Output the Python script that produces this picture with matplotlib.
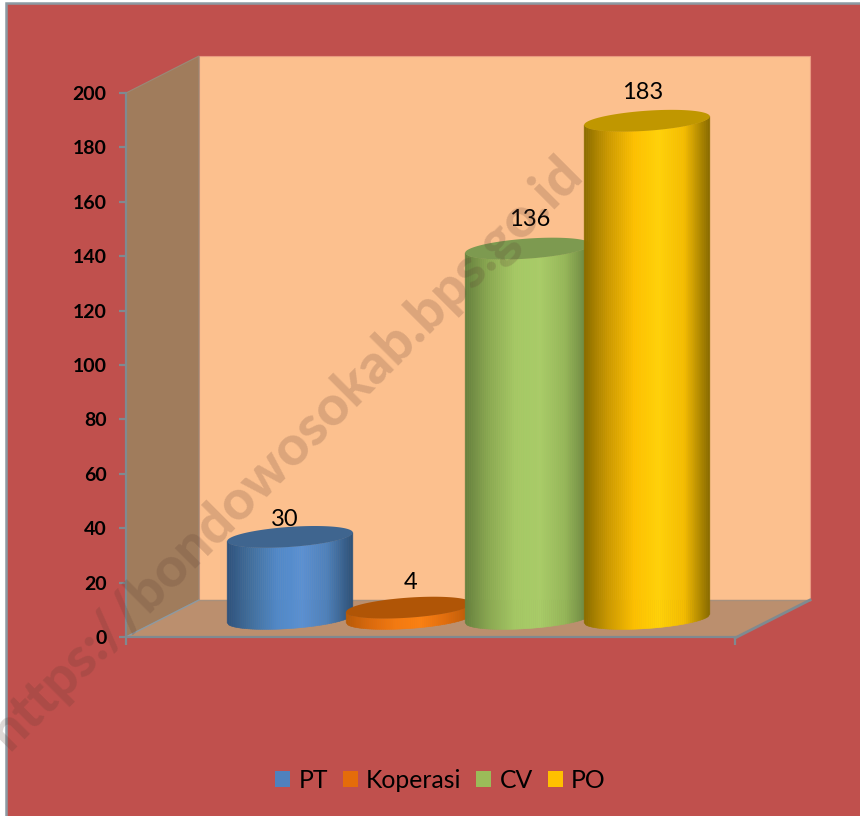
import numpy as np
import matplotlib
matplotlib.use("Agg")
import matplotlib.pyplot as plt
from matplotlib.collections import PolyCollection
from matplotlib.colors import LinearSegmentedColormap
from matplotlib.patches import Polygon, Rectangle, Patch
from matplotlib.transforms import Affine2D

categories = ["PT", "Koperasi", "CV", "PO"]
values = [30, 4, 136, 183]
y_ticks = [0, 20, 40, 60, 80, 100, 120, 140, 160, 180, 200]
side_colors = [
    ["#2f527c", "#41709f", "#5088c8", "#5a90d2", "#4d80ba", "#2f5278"],
    ["#b85a08", "#dc6a0c", "#f47a10", "#fb8012", "#e06c0c", "#b85a08"],
    ["#66803e", "#8aaa52", "#a4c864", "#a8cc68", "#94b658", "#66803e"],
    ["#8a6c00", "#cc9a00", "#fdc000", "#ffd208", "#f4bc00", "#8a6c00"],
]
top_colors = ["#3f658f", "#b05506", "#7d9a50", "#c09700"]
legend_colors = ["#4f81bd", "#e46c0a", "#9bbb59", "#ffc000"]
label_offsets = [(-5, 17), (2, 25), (2, 29), (-4, 28)]  # pixels from cylinder top

W, H = 860, 816
plt.rcParams["font.family"] = ["Lato", "DejaVu Sans"]
fig = plt.figure(figsize=(W / 100, H / 100), dpi=100, facecolor="white")

# chart frame and 3D walls, in pixel space
bg = fig.add_axes([0, 0, 1, 1], zorder=0)
bg.set_xlim(0, W)
bg.set_ylim(H, 0)
bg.axis("off")
bg.add_patch(Rectangle((6, 3), W, H, fc="#c0504d", ec="#8c9aa3", lw=1.8))
bg.add_patch(Polygon([(199, 56), (810, 56), (810, 600), (199, 600)], fc="#fcc08e", ec="#e89a80", lw=0.8))
bg.add_patch(Polygon([(126, 93), (199, 56), (199, 600), (126, 637)], fc="#a07c5c", ec="#998a78", lw=0.8))
bg.add_patch(Polygon([(126, 637), (199, 600), (810, 600), (735, 638)], fc="#bb8f6e", ec="none"))
bg.plot([199, 810], [600, 600], color="#a8907c", lw=1)
bg.plot([126, 199], [637, 600], color="#8c9aa3", lw=1)
bg.plot([735, 810], [638, 600], color="#7f8a90", lw=2)

# main axes: left/right/top/bottom match the front plane
x0, x1, yt, yb = 126, 735, 93, 637
ax = fig.add_axes([x0 / W, 1 - yb / H, (x1 - x0) / W, (yb - yt) / H], zorder=1)
ax.patch.set_alpha(0)
unit_x = 119.0
ax.set_xlim((x0 - 253.5) / unit_x, (x1 - 253.5) / unit_x)
ax.set_ylim(y_ticks[0], y_ticks[-1])
unit_y = (yb - yt) / (y_ticks[-1] - y_ticks[0])
depth = Affine2D().translate(36.5, 18.5)
trans = ax.transData + depth

RX, RY, TILT = 63.0, 10.0, np.radians(4.0)


def ellipse(t):
    return (RX * np.cos(t) * np.cos(TILT) - RY * np.sin(t) * np.sin(TILT),
            RX * np.cos(t) * np.sin(TILT) + RY * np.sin(t) * np.cos(TILT))


t = np.linspace(0, 2 * np.pi, 721)
ex, ey = ellipse(t)
t_left = t[np.argmin(ex)]
low_x, low_y = ellipse(np.linspace(t_left, t_left + np.pi, 200))
NS = 64

for i, v in enumerate(values):
    cmap = LinearSegmentedColormap.from_list("c", side_colors[i])
    edges = np.linspace(low_x.min(), low_x.max(), NS + 1)
    polys, cols = [], []
    for k in range(NS):
        a, b = edges[k], edges[k + 1]
        ya, yb_ = np.interp([a, b], low_x, low_y)
        polys.append([
            (i + a / unit_x, ya / unit_y), (i + b / unit_x, yb_ / unit_y),
            (i + b / unit_x, v + yb_ / unit_y), (i + a / unit_x, v + ya / unit_y),
        ])
        cols.append(cmap((k + 0.5) / NS))
    coll = PolyCollection(polys, facecolors=cols, edgecolors=cols, linewidths=0.4,
                          transform=trans, zorder=2 + i, clip_on=False)
    ax.add_collection(coll)
    ax.add_patch(Polygon(np.c_[i + ex / unit_x, v + ey / unit_y], fc=top_colors[i], ec="none",
                         transform=trans, zorder=2 + i, clip_on=False))
    dx, dy = label_offsets[i]
    ax.annotate(str(v), xy=(i, v), xycoords=trans, xytext=(dx * 0.72, dy * 0.72),
                textcoords="offset points", ha="center", va="center",
                fontsize=17, color="black", zorder=20, annotation_clip=False)

ax.set_xticks([ax.get_xlim()[0], ax.get_xlim()[1]])
ax.set_xticklabels([])
ax.set_yticks(y_ticks)
ax.set_yticklabels([str(y) for y in y_ticks], fontweight="bold", fontsize=14)
ax.tick_params(axis="y", length=5, width=1.6, color="#7f8a90", pad=9, labelcolor="black")
ax.tick_params(axis="x", length=5.5, width=1.6, color="#7f8a90")
for s in ("top", "right"):
    ax.spines[s].set_visible(False)
for s in ("left", "bottom"):
    ax.spines[s].set_color("#7f8a90")
    ax.spines[s].set_linewidth(1.6)

handles = [Patch(fc=c, ec="none", label=n) for n, c in zip(categories, legend_colors)]
fig.legend(handles=handles, loc="center", bbox_to_anchor=(440.5 / W, 1 - 780 / H), ncol=4,
           frameon=False, fontsize=17.8, handlelength=0.61, handleheight=0.61,
           handletextpad=0.33, columnspacing=0.6, labelcolor="black")

# watermark over everything
fig.text(286 / W, 1 - 452 / H, "https://bondowosokab.bps.go.id", rotation=45, rotation_mode="anchor",
         ha="center", va="center", fontsize=40, fontweight=900, color="#5a3a30", alpha=0.2,
         zorder=30)

fig.savefig("out.png", dpi=100)
